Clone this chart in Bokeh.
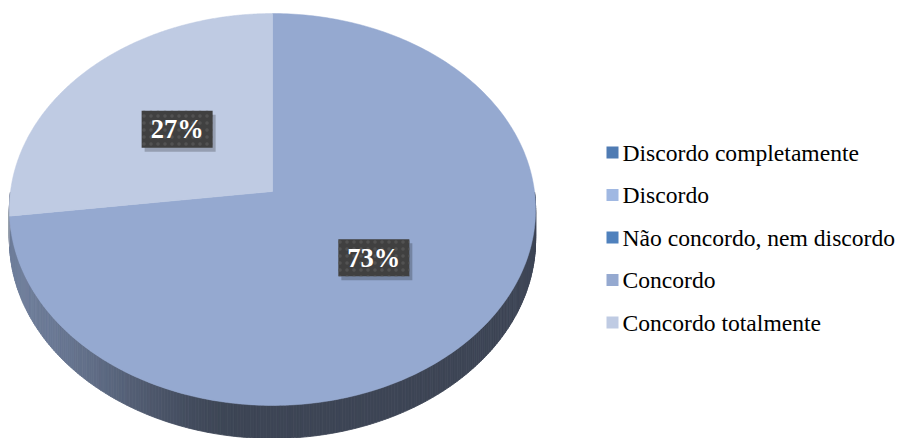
import numpy as np
from bokeh.plotting import figure
from bokeh.models import Range1d
from bokeh.embed import file_html
from bokeh.resources import INLINE
from bokeh.core.properties import value

# ---- data ----
categories = ["Discordo completamente", "Discordo", "Não concordo, nem discordo",
              "Concordo", "Concordo totalmente"]
shares = [0, 0, 0, 73, 27]
labels = ["0%", "0%", "0%", "73%", "27%"]
colors = ["#4f7bb3", "#a0b8e2", "#4f81bd", "#95a9d0", "#bfcbe3"]

# ---- geometry (image pixel coordinates) ----
W, H = 900, 438
CX, CY = 272.0, 191.0
RX, RY, K, DEPTH = 262.0, 194.3, 0.0918, 30.0
SERIF = value("Liberation Serif")


def X(x):
    return np.asarray(x, dtype=float)


def Y(y):
    return H - np.asarray(y, dtype=float)


def proj(theta, r=1.0, drop=0.0):
    theta = np.asarray(theta, dtype=float)
    s = r * np.sin(theta)
    c = r * np.cos(theta)
    g = 1.0 / (1.0 + K * s)
    return CX + RX * c * g, CY - RY * s * g + drop * g


def hex2rgb(h):
    h = h.lstrip("#")
    return np.array([int(h[i:i + 2], 16) for i in (0, 2, 4)], dtype=float)


def rgb2hex(c):
    c = np.clip(np.round(c), 0, 255).astype(int)
    return "#%02x%02x%02x" % tuple(c)


p = figure(width=W, height=H, x_range=Range1d(0, W), y_range=Range1d(0, H),
           output_backend="svg", toolbar_location=None, min_border=0,
           background_fill_color="white", border_fill_color="white")
p.axis.visible = False
p.grid.visible = False
p.outline_line_color = None

total = float(sum(shares))
start = np.pi / 2
slices = []
for cat, v, lab, col in zip(categories, shares, labels, colors):
    if v <= 0:
        continue
    sweep = 2 * np.pi * v / total
    slices.append((start, start - sweep, lab, col))
    start -= sweep

# ---- side walls ----
side_xs, side_ys, side_cols = [], [], []
for a0, a1, lab, col in slices:
    th = np.linspace(a0, a1, 400)
    vis = np.sin(th) <= 0.0
    th = th[vis]
    if len(th) < 2:
        continue
    base = hex2rgb(col)
    for i in range(len(th) - 1):
        t0, t1 = th[i], th[i + 1]
        xt0, yt0 = proj(t0)
        xt1, yt1 = proj(t1)
        xb0, yb0 = proj(t0, drop=DEPTH)
        xb1, yb1 = proj(t1, drop=DEPTH)
        xm = 0.5 * (xt0 + xt1)
        t = np.clip((xm - 10.0) / 230.0, 0, 1)
        t = t * t * (3 - 2 * t)
        f = 0.74 - 0.33 * t
        side_xs.append(list(X([xt0, xt1, xb1, xb0])))
        side_ys.append(list(Y([yt0, yt1, yb1, yb0])))
        side_cols.append(rgb2hex(base * f))
p.patches(side_xs, side_ys, fill_color=side_cols, line_color=side_cols, line_width=0.8)

# ---- top faces ----
top_xs, top_ys, top_cols = [], [], []
for a0, a1, lab, col in slices:
    th = np.linspace(a0, a1, 300)
    ax, ay = proj(th)
    xs = np.concatenate([[CX], ax])
    ys = np.concatenate([[CY], ay])
    top_xs.append(list(X(xs)))
    top_ys.append(list(Y(ys)))
    top_cols.append(col)
p.patches(top_xs, top_ys, fill_color=top_cols, line_color=top_cols, line_width=0.5)

# ---- data labels ----
lx, ly, ltxt = [], [], []
for a0, a1, lab, col in slices:
    mid = 0.5 * (a0 + a1)
    x, y = proj(mid, r=0.5)
    lx.append(float(X(x)))
    ly.append(float(Y(y)))
    ltxt.append(lab)
bw, bh = 71, 37
p.rect([x + 3 for x in lx], [y - 4 for y in ly], width=bw, height=bh,
       fill_color="black", fill_alpha=0.22, line_color=None)
p.rect(lx, ly, width=bw, height=bh, fill_color="#404040", line_color=None,
       hatch_pattern="dot", hatch_color="#525252", hatch_scale=7, hatch_weight=1.5)
p.text(lx, ly, text=ltxt, text_align="center", text_baseline="middle",
       text_font=SERIF, text_font_style="bold",
       text_font_size="26.5px", text_color="white")

# ---- legend ----
row_y = [152, 194.5, 237, 279.5, 322]
p.rect([float(X(612))] * len(categories), [float(Y(v)) for v in row_y],
       width=12, height=12, fill_color=colors, line_color=None)
p.text([float(X(622))] * len(categories), [float(Y(v)) for v in row_y],
       text=categories, text_align="left", text_baseline="middle",
       text_font=SERIF, text_font_size="23.6px",
       text_color="black")

open("out.html", "w").write(file_html(p, INLINE))
